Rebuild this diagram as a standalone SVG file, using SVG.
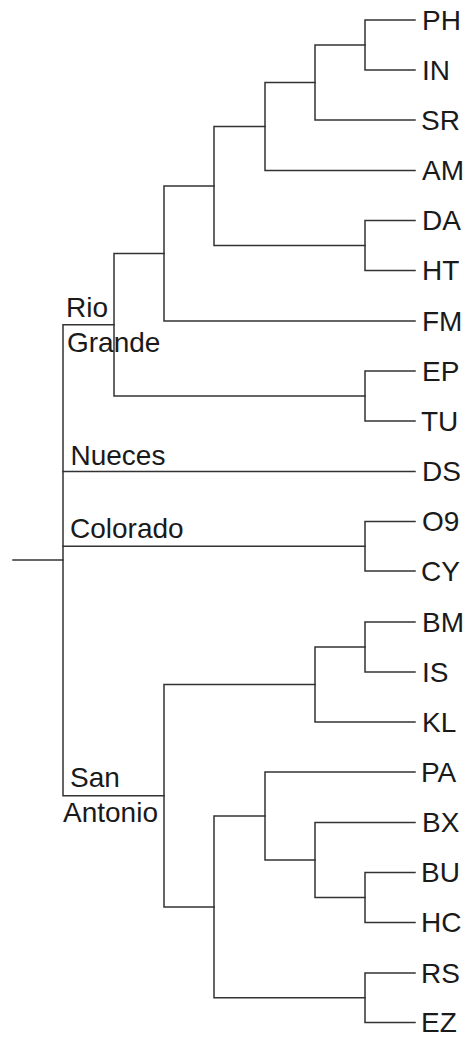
<svg xmlns="http://www.w3.org/2000/svg" width="469" height="1041" viewBox="0 0 469 1041">
<style>
.c path{fill:none;stroke:#333;stroke-width:1.5;stroke-linecap:square}
text{font-family:"Liberation Sans",Arial,sans-serif;font-size:28px;fill:#1a1a1a}
</style>
<rect width="469" height="1041" fill="#fff"/>
<g class="c" id="connectors">
<path d="M13 560 H63"/>
<path d="M114 324.75 H63 V795.7 H164"/>
<path d="M63 471.5 H415"/>
<path d="M63 546.25 H365"/>
<path d="M164 253.5 H114 V396 H365"/>
<path d="M214 186 H164 V321 H415"/>
<path d="M265 126.5 H214 V245.5 H365"/>
<path d="M315 82.5 H265 V170.5 H415"/>
<path d="M365 45 H315 V120 H415"/>
<path d="M415 20 H365 V70 H415"/>
<path d="M415 220.5 H365 V270.5 H415"/>
<path d="M415 371 H365 V421 H415"/>
<path d="M415 521.5 H365 V571 H415"/>
<path d="M315 684.5 H164 V906.9 H214"/>
<path d="M365 647 H315 V722 H415"/>
<path d="M415 622 H365 V672 H415"/>
<path d="M265 816 H214 V997.75 H365"/>
<path d="M415 772 H265 V860 H315"/>
<path d="M415 822.5 H315 V897.5 H365"/>
<path d="M415 872.5 H365 V922.5 H415"/>
<path d="M415 973 H365 V1022.5 H415"/>
</g>
<g id="leaves">
<g id="PH"><text x="422" y="29.5">PH</text></g>
<g id="IN"><text x="422" y="79.5">IN</text></g>
<g id="SR"><text x="421" y="129.5">SR</text></g>
<g id="AM"><text x="422" y="180">AM</text></g>
<g id="DA"><text x="422" y="230">DA</text></g>
<g id="HT"><text x="422" y="280">HT</text></g>
<g id="FM"><text x="422" y="330.5">FM</text></g>
<g id="EP"><text x="422" y="380.5">EP</text></g>
<g id="TU"><text x="421" y="430.5">TU</text></g>
<g id="DS"><text x="422" y="481">DS</text></g>
<g id="O9"><text x="422" y="531">O9</text></g>
<g id="CY"><text x="421" y="580.5">CY</text></g>
<g id="BM"><text x="422" y="631.5">BM</text></g>
<g id="IS"><text x="422" y="681.5">IS</text></g>
<g id="KL"><text x="422" y="731.5">KL</text></g>
<g id="PA"><text x="421" y="781.5">PA</text></g>
<g id="BX"><text x="422" y="832">BX</text></g>
<g id="BU"><text x="421" y="882">BU</text></g>
<g id="HC"><text x="421" y="932">HC</text></g>
<g id="RS"><text x="421" y="982.5">RS</text></g>
<g id="EZ"><text x="421" y="1032">EZ</text></g>
</g>
<g id="clade-labels">
<g id="rio-grande"><text x="66" y="317">Rio</text><text x="67" y="351.5">Grande</text></g>
<g id="nueces"><text x="70.5" y="465">Nueces</text></g>
<g id="colorado"><text x="70" y="538">Colorado</text></g>
<g id="san-antonio"><text x="70" y="787">San</text><text x="63" y="821.5">Antonio</text></g>
</g>
</svg>
